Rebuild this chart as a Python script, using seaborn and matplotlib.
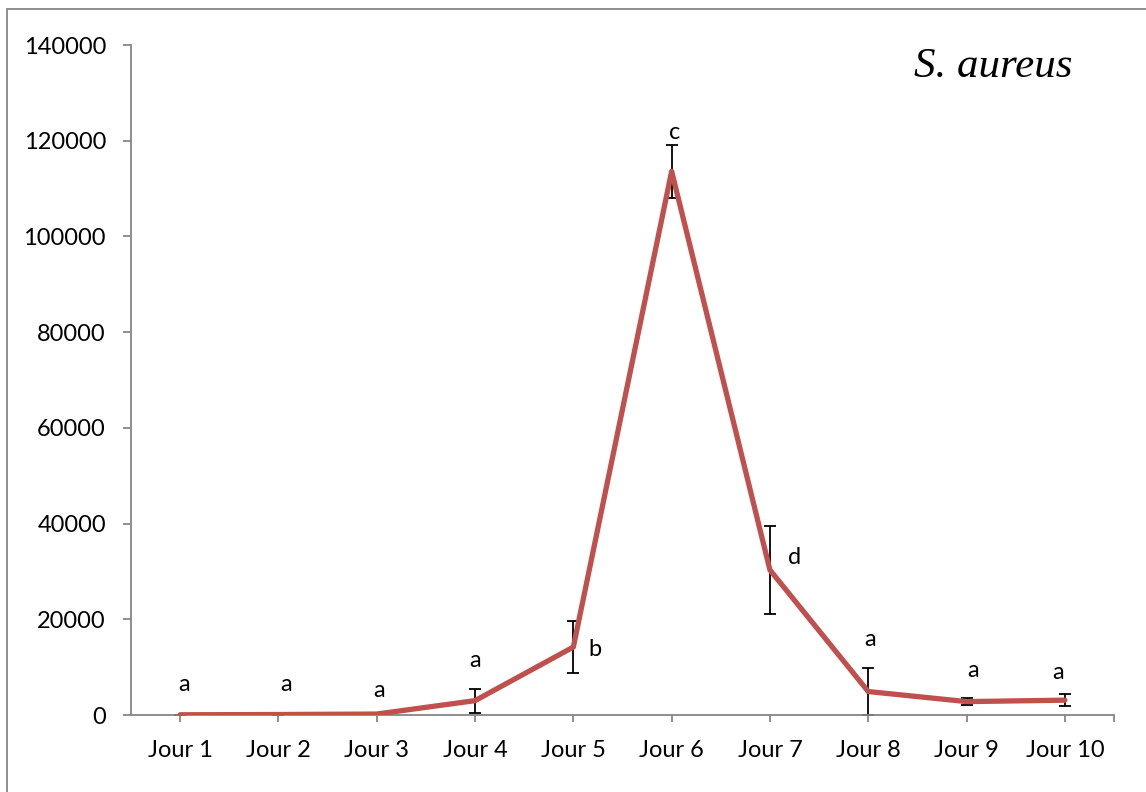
import matplotlib
matplotlib.use("Agg")
import matplotlib.pyplot as plt
from matplotlib.patches import Rectangle
import seaborn as sns
import pandas as pd

# S. aureus counts per day, with standard deviations and significance groups
days = ["Jour 1", "Jour 2", "Jour 3", "Jour 4", "Jour 5",
        "Jour 6", "Jour 7", "Jour 8", "Jour 9", "Jour 10"]
counts = [50, 100, 200, 3000, 14200, 113600, 30300, 4900, 2800, 3100]
errors = [0, 0, 0, 2500, 5500, 5600, 9200, 5000, 800, 1300]
groups = ["a", "a", "a", "a", "b", "c", "d", "a", "a", "a"]

# label offsets (pixels) from each point
label_dx = [4, 8, 2, 0, 22, 3, 25, 2, 7, -7]
label_dy = [30, 30, 24, 40, -2, 39, 12, 52, 31, 28]

sns.set_style("white")
plt.rcParams["font.family"] = ["Lato", "DejaVu Sans"]
plt.rcParams["text.color"] = "black"
plt.rcParams["xtick.labelcolor"] = "black"
plt.rcParams["ytick.labelcolor"] = "black"

fig = plt.figure(figsize=(11.46, 7.92), dpi=100)
ax = fig.add_axes([131 / 1146, 1 - 715 / 792, (1114 - 131) / 1146, (715 - 45) / 792])

df = pd.DataFrame({"day": days, "count": counts})
pos = list(range(len(days)))

ax.errorbar(pos, counts, yerr=errors, fmt="none", ecolor="black",
            elinewidth=1.3, capsize=4.5, capthick=1.3, zorder=2)
sns.lineplot(data=df, x="day", y="count", sort=False, color="#C0504D",
             linewidth=3.8, ax=ax, zorder=3)

for i, (g, c) in enumerate(zip(groups, counts)):
    ax.annotate(g, (i, c), xytext=(label_dx[i], label_dy[i]),
                textcoords="offset pixels", ha="center", va="center",
                fontsize=17, color="black")

ax.set_xlim(-0.5, 9.5)
ax.set_ylim(0, 140000)
ax.set_yticks(range(0, 140001, 20000))
ax.set_xticks(pos + [9.5])
ax.set_xticklabels(days + [""])
ax.set_xlabel("")
ax.set_ylabel("")

for side in ("top", "right"):
    ax.spines[side].set_visible(False)
for side in ("left", "bottom"):
    ax.spines[side].set_color("#868686")
    ax.spines[side].set_linewidth(1.3)

ax.tick_params(axis="y", direction="out", length=6, width=1.3, color="#868686",
               labelsize=17, pad=12, left=True, labelcolor="black")
ax.tick_params(axis="x", direction="out", length=5, width=1.3, color="#868686",
               labelsize=17, pad=13, bottom=True, labelcolor="black")

ax.text(0.958, 0.967, "S. aureus", transform=ax.transAxes, ha="right", va="center",
        fontsize=31, fontstyle="italic", family=["Liberation Serif"], color="black")

# outer chart frame
fig.patches.append(Rectangle((7 / 1146, -0.05), 1.1, 1 - 9 / 792 + 0.05,
                             transform=fig.transFigure, fill=False,
                             edgecolor="#868686", linewidth=1.3))

fig.savefig("out.png", dpi=100, facecolor="white")
